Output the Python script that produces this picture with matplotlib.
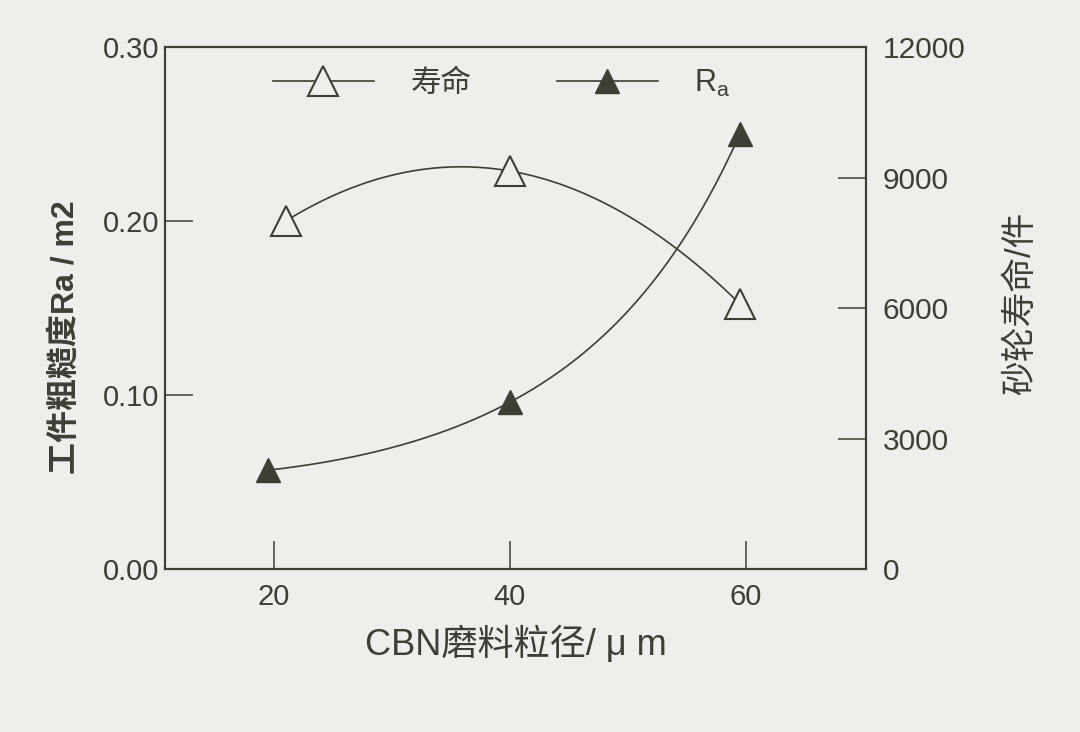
import numpy as np
import matplotlib.pyplot as plt
from matplotlib.lines import Line2D

plt.rcParams['font.family'] = ['Liberation Sans', 'Noto Sans CJK SC']
plt.rcParams['mathtext.fontset'] = 'custom'
plt.rcParams['mathtext.rm'] = 'Liberation Sans'
plt.rcParams['mathtext.it'] = 'Liberation Sans'

# 数据
grit_life = [21, 40, 59.5]
life = [8000, 9150, 6100]
grit_ra = [19.5, 40, 59.5]
ra = [0.057, 0.096, 0.250]

x_ticks = [20, 40, 60]
ra_ticks = [0.00, 0.10, 0.20, 0.30]
life_ticks = [0, 3000, 6000, 9000, 12000]

bg = '#eeeeea'
ink = '#3e3e36'

fig = plt.figure(figsize=(10.8, 7.32), dpi=100, facecolor=bg)
ax = fig.add_axes([0.153, 0.222, 0.649, 0.714], facecolor=bg)
ax2 = ax.twinx()

# 平滑曲线
xs = np.linspace(grit_ra[0], grit_ra[-1], 200)
c_ra = np.polyfit(grit_ra, np.log(ra), 2)
ax.plot(xs, np.exp(np.polyval(c_ra, xs)), color=ink, lw=1.2, zorder=2)
ax.plot(grit_ra, ra, ls='none', marker='^', ms=17, color=ink, zorder=3)

xl = np.linspace(grit_life[0], grit_life[-1], 200)
c_life = np.polyfit(grit_life, life, 2)
ax2.plot(xl, np.polyval(c_life, xl), color=ink, lw=1.2, zorder=2)
ax2.plot(grit_life, life, ls='none', marker='^', ms=21, mfc=bg, mec=ink,
         mew=1.5, zorder=3)

ax.set_xlim(10.8, 70.2)
ax.set_ylim(0, 0.30)
ax2.set_ylim(0, 12000)
ax.set_xticks(x_ticks)
ax.set_yticks(ra_ticks)
ax.set_yticklabels([f'{v:.2f}' for v in ra_ticks])
ax2.set_yticks(life_ticks)

for a in (ax, ax2):
    for s in a.spines.values():
        s.set_color(ink)
        s.set_linewidth(1.5)
ax.tick_params(axis='both', direction='in', length=20, width=1.1, color=ink,
               labelsize=21, labelcolor=ink, pad=4)
ax.tick_params(axis='x', pad=10)
ax2.tick_params(axis='y', direction='in', length=20, width=1.1, color=ink,
                labelsize=21.5, labelcolor=ink, pad=12)

ax.set_xlabel('CBN磨料粒径/ μ m', fontsize=26, color=ink, labelpad=10)
ax.set_ylabel('工件粗糙度Ra / m2', fontsize=23, color=ink, fontweight='bold')
ax.yaxis.set_label_coords(-0.121, 0.445)
ax2.set_ylabel('砂轮寿命/件', fontsize=25, color=ink, rotation=90)
ax2.yaxis.set_label_coords(1.197, 0.51)

handles = [
    Line2D([], [], color=ink, lw=1.2, marker='^', ms=21, mfc=bg, mec=ink, mew=1.5),
    Line2D([], [], color=ink, lw=1.2, marker='^', ms=17),
]
ax.legend(handles, ['寿命', r'$\mathrm{R_a}$'], ncol=2, loc='center',
          bbox_to_anchor=(0.48, 0.93), frameon=False, fontsize=22,
          handlelength=3.3, handletextpad=1.2, columnspacing=2.8,
          labelcolor=ink)

fig.savefig('out.png', dpi=100, facecolor=bg)
